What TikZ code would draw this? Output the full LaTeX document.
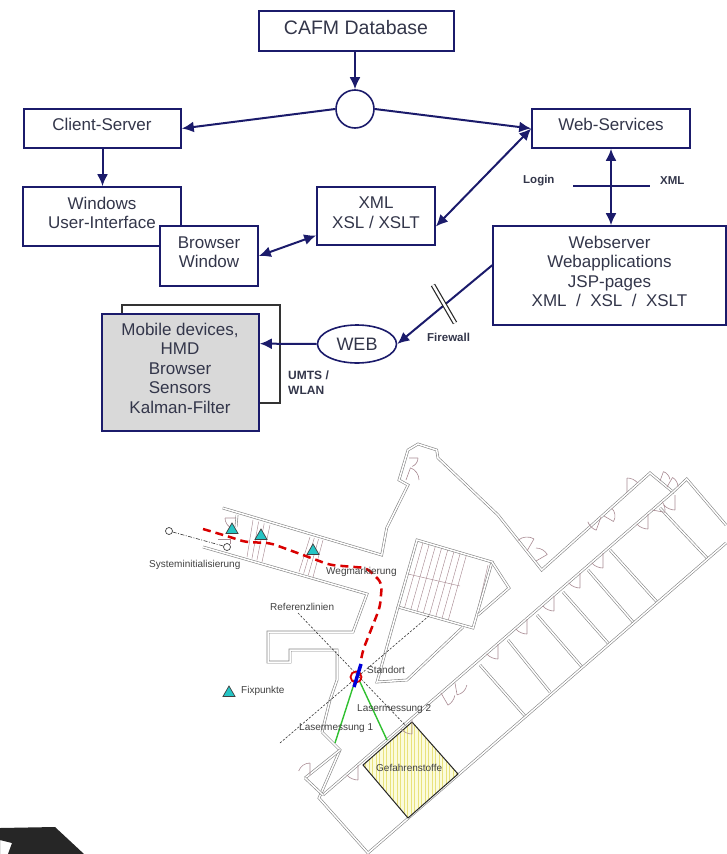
\documentclass[tikz,border=0pt]{standalone}
\usepackage{fontspec}
\setmainfont{Liberation Sans}
\usetikzlibrary{arrows.meta,calc,shapes.geometric}
\definecolor{navy}{HTML}{1B1B6B}
\definecolor{txt}{HTML}{33364A}
\definecolor{wallc}{HTML}{858585}
\definecolor{doorc}{HTML}{A88A92}
\definecolor{fixc}{HTML}{25C5C5}
\definecolor{grnc}{HTML}{30C030}
\definecolor{hazf}{HTML}{FBFBDC}
\definecolor{hazl}{HTML}{E9E27C}
\tikzset{
 boxn/.style={draw=navy,line width=1.6pt,fill=white,inner sep=0pt},
 tl/.style={text=txt,align=center,inner sep=0pt,font=\fontsize{17}{19.5}\selectfont},
 arr/.style={draw=navy,line width=2pt,-{Latex[length=12pt,width=11pt]}},
 arrb/.style={draw=navy,line width=2pt,{Latex[length=12pt,width=11pt]}-{Latex[length=12pt,width=11pt]}},
 lab/.style={text=txt,font=\bfseries\fontsize{11.5}{14}\selectfont,align=left,inner sep=0pt},
 plab/.style={text=black!75,font=\fontsize{10}{12}\selectfont,inner sep=0pt},
 wall/.style={draw=wallc,line width=.6pt,double=white,double distance=1.5pt,line join=miter},
 thin wall/.style={draw=doorc,line width=.45pt},
 doorl/.style={draw=doorc,line width=.6pt},
 refl/.style={draw=black!80,line width=.6pt,dash pattern=on 2.2pt off 1.6pt},
 fix/.style={regular polygon,regular polygon sides=3,draw=black!75,fill=fixc,line width=.7pt,minimum size=14pt,inner sep=0pt},
 grn/.style={draw=grnc,line width=1.4pt}
}
% hinge x, hinge y, leaf angle (clockwise on screen), sweep, radius
\newcommand{\doorat}[5]{\draw[doorl] (#1,#2)++(#3:#5)--(#1,#2) (#1,#2)++(#3:#5) arc[start angle=#3,delta angle=#4,radius=#5];}
\begin{document}
\begin{tikzpicture}[x=1pt,y=-1pt]
\useasboundingbox (0,0) rectangle (726,854);
% ---------- upper diagram
\node[boxn,minimum width=195pt,minimum height=40pt] (db) at (356.5,31) {};
\node[tl,font=\fontsize{19.5}{22}\selectfont] (dbt) at (356,28) {CAFM Database};
\node[boxn,circle,minimum size=38pt] (hub) at (355,109) {};
\node[boxn,minimum width=157pt,minimum height=39pt] (cs) at (102.5,128.5) {};
\node[tl] (cst) at (102,124) {Client-Server};
\node[boxn,minimum width=158pt,minimum height=39pt] (ws) at (611,128.5) {};
\node[tl] (wst) at (611,124) {Web-Services};
\node[boxn,minimum width=158pt,minimum height=59pt] (win) at (102,216.5) {};
\node[tl] (wint) at (102,213) {Windows\\User-Interface};
\node[boxn,minimum width=98pt,minimum height=60pt] (bw) at (209,256) {};
\node[tl] (bwt) at (209,252) {Browser\\Window};
\node[boxn,minimum width=118pt,minimum height=58pt] (xml) at (376,216) {};
\node[tl] (xmlt) at (376,212.5) {XML\\XSL / XSLT};
\node[boxn,minimum width=233pt,minimum height=99pt] (wsrv) at (609.5,275.5) {};
\node[tl] (wsrvt) at (609.5,271.5) {Webserver\\Webapplications\\JSP-pages\\XML \ / \ XSL \ / \ XSLT};
\coordinate (bb1) at (122,314);
\coordinate (bb2) at (122,305);
\coordinate (bb3) at (280,305);
\coordinate (bb4) at (280,403);
\coordinate (bb5) at (259,403);
\draw[black!80,line width=1.2pt] (bb1)--(bb2)--(bb3)--(bb4)--(bb5);
\node[boxn,fill=black!15,minimum width=157pt,minimum height=117pt] (mob) at (180.5,372.5) {};
\node[tl] (mobt) at (180,368) {Mobile devices,\\HMD\\Browser\\Sensors\\Kalman-Filter};
\node[boxn,ellipse,minimum width=79pt,minimum height=38pt] (web) at (357,344) {};
\node[tl,font=\fontsize{18}{20}\selectfont] (webt) at (357,344) {WEB};
\draw[arr] (hub.north|-db.south)--(hub.north);
\draw[arr] (hub.west)--(cs.east);
\draw[arr] (hub.east)--(ws.west);
\draw[arr] (cs.south)--(cs.south|-win.north);
\draw[arrb] (bw.east)--(xml.198.7);
\draw[arrb] (xml.-10)--(ws.west);
\draw[arrb] (ws.south)--(ws.south|-wsrv.north);
\draw[arr] (wsrv.175)--(web.east);
\draw[arr] (web.west)--(mob.20);
\coordinate (ll) at (573,186);
\coordinate (lr) at (650,186);
\draw[navy,line width=1.5pt] (ll)--(lr);
\coordinate (fa) at (433,285);
\coordinate (fb) at (455,323);
\draw[black!85,line width=1.2pt,double=white,double distance=2.4pt] (fa)--(fb);
\node[lab,anchor=west] (login) at (523,181) {Login};
\node[lab,anchor=west] (xmll) at (660,181) {XML};
\node[lab,anchor=west] (fw) at (427,337) {Firewall};
\node[lab,anchor=north west,font=\bfseries\fontsize{12}{15}\selectfont] (umts) at (288,371) {UMTS /\\WLAN};
% ---------- floor plan
\foreach \t in {0,.125,...,1.01}{
 \draw[thin wall] ($(417,540)!\t!(467,553)$)--($(398,607)!\t!(448,621)$);}
\draw[thin wall] (408,574)--(460,586);
\draw[thin wall] (488,565)--(477,613);
\foreach \t in {0,.33,.66,1}{
 \draw[thin wall] ($(253,520)!\t!(270,525)$)--($(247,557)!\t!(262,562)$);
 \draw[thin wall] ($(310,537)!\t!(323,540)$)--($(299,572)!\t!(313,577)$);}
% room dividers
\draw[wall] (480,665)--(525,716);
\draw[wall] (508,640)--(550,692);
\draw[wall] (537,615)--(582,667);
\draw[wall] (563,592)--(608,643);
\draw[wall] (588,570)--(633,622);
\draw[wall] (610,550)--(657,602);
\draw[wall] (660,508)--(708,559);
% outer walls
\draw[wall] (222.7,508)--(381.7,555)--(386.7,528)--(408,485)--(399,480)--(408,450)--(418,444)--(436.7,450)--(438,458)--(498,515)--(541.7,570)--(650,473)--(673,492)--(686.7,479)--(726,525);
\draw[wall] (673,492)--(323,795);
\draw[wall] (726,543)--(368,853)--(319,798)--(340,750)--(322,732);
\draw[wall] (305,778)--(340,750);
\draw[wall] (305,778)--(323,795);
\draw[wall] (203,547)--(367,594)--(353,632)--(268,632)--(268,662)--(290,662)--(290,650)--(337,650)--(337,680)--(330,700)--(322,732);
\draw[wall] (417,540)--(492,562)--(473,628)--(398,607)--cycle;
\draw[wall] (492,562)--(509,588)--(478,615);
\draw[wall] (398,607)--(377,682)--(407,680)--(463,627);
% small room at corridor start
\draw[wall] (237,515)--(236,527);
\doorat{236}{518}{180}{-70}{11}
\draw[doorl] (218,539)--(230,539)--(230,544);
% doors
\doorat{498}{644}{90}{49}{15}
\doorat{527}{619}{90}{49}{15}
\doorat{554}{596}{90}{49}{15}
\doorat{580}{573}{90}{49}{15}
\doorat{603}{553}{90}{49}{15}
\doorat{648}{514}{90}{49}{15}
\doorat{652}{510}{10}{-50}{13}
\doorat{675}{495}{90}{49}{15}
\doorat{627}{492}{-90}{49}{14}
\doorat{601}{517}{110}{50}{14}
\doorat{604}{516}{30}{-75}{11}
\doorat{527}{551}{-60}{-70}{14}
\doorat{536}{561}{-30}{-60}{13}
\doorat{660}{481}{-70}{60}{10}
\doorat{667}{487}{-60}{60}{11}
\doorat{409}{458}{0}{70}{9}
\doorat{406}{480}{-70}{70}{13}
\doorat{310}{775}{-90}{-70}{12}
\doorat{441}{693}{60}{-50}{14}
\doorat{455}{683}{80}{-70}{12}
\doorat{358}{765}{90}{49}{15}
% hazard area
\coordinate (h1) at (412,722);
\coordinate (h2) at (458,774);
\coordinate (h3) at (408,818);
\coordinate (h4) at (363,765);
\begin{scope}
\clip (h1)--(h2)--(h3)--(h4)--cycle;
\fill[hazf] (360,720) rectangle (460,820);
\foreach \x in {362,365.5,...,460}{\draw[hazl,line width=.7pt] (\x,720)--(\x,820);}
\end{scope}
\draw[black!85,line width=1pt] (h1)--(h2)--(h3)--(h4)--cycle;
\doorat{412}{720}{90}{49}{14}
% reference lines
\draw[refl] (298,613)--(407,727);
\draw[refl] (280,743)--(430,615);
\draw[grn] (353,687)--(335,743);
\draw[grn] (360,682)--(387,740);
\draw[red!85!black,line width=2.5pt,dash pattern=on 8pt off 5pt,rounded corners=6pt] (203,529)--(230,537)--(245,542)--(270,543)--(303,555)--(330,565)--(367,568)--(382,583)--(380,607)--(363,650)--(361,660);
\node[draw=red!85!black,line width=1.8pt,circle,minimum size=11pt,inner sep=0pt] (pos) at (356,677) {};
\draw[blue!85!black,line width=3.5pt] (361,664)--(354,687);
\node[draw=black!75,circle,line width=.7pt,minimum size=7pt,inner sep=0pt] (i1) at (169,531) {};
\node[draw=black!75,circle,line width=.7pt,minimum size=7pt,inner sep=0pt] (i2) at (227,547) {};
\draw[black!80,line width=.6pt,dash pattern=on 4pt off 1.5pt on 1pt off 1.5pt] (i1)--(i2);
\node[fix] (t1) at (232,530) {};
\node[fix] (t2) at (261,536) {};
\node[fix] (t3) at (313,551) {};
\node[fix] (t4) at (229,693) {};
\node[plab,anchor=west] (n1) at (149,565) {Systeminitialisierung};
\node[plab,anchor=west] (n2) at (326,572) {Wegmarkierung};
\node[plab,anchor=west] (n3) at (270,607) {Referenzlinien};
\node[plab,anchor=west] (n4) at (367,670) {Standort};
\node[plab,anchor=west] (n5) at (241,691) {Fixpunkte};
\node[plab,anchor=west] (n6) at (299,728) {Lasermessung 1};
\node[plab,anchor=west] (n7) at (357,709) {Lasermessung 2};
\node[plab,anchor=west] (n8) at (376,768) {Gefahrenstoffe};
% corner fragment
\fill[black!85,even odd rule] (0,828)--(55,827)--(84,854)--(0,854)--cycle (0,840)--(12,843)--(8,854)--(0,854)--cycle;
\end{tikzpicture}
\end{document}
